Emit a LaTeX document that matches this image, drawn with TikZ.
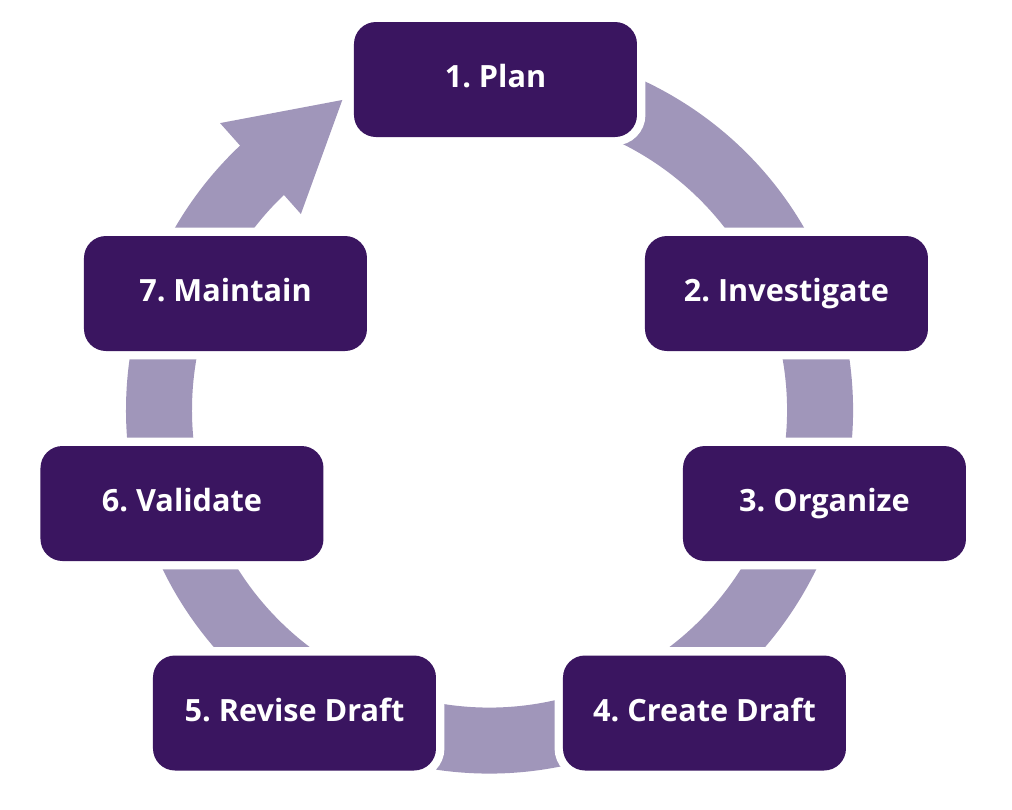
\documentclass[tikz,border=0pt]{standalone}
\usepackage{fontspec}
\setmainfont{Open Sans}
\frenchspacing
\definecolor{plum}{RGB}{58,21,96}
\definecolor{lilac}{RGB}{160,150,186}

\begin{document}
\begin{tikzpicture}[
  font=\bfseries\fontsize{21.8pt}{26pt}\selectfont,
  stage/.style={rectangle,rounded corners=0.55cm,fill=plum,text=white,
    minimum width=7.075cm,minimum height=2.875cm,inner sep=0pt,
    text height=0.6cm,text depth=0.2cm,
    preaction={draw=white,line width=0.42cm}},
  band/.style={line width=1.65cm,draw=lilac},
  arrowhd/.style={fill=lilac}
]
\fill[white] (-12.2375,-9.675) rectangle (13.0625,10.25);

% ================= ring =================
\draw[band] (105:8.2625) arc[start angle=105,end angle=-227,radius=8.2625];
\fill[arrowhd] (133.2:9.84) -- (115.4:8.58) -- (133.9:6.80) -- cycle;

% ================= stages =================
\node[stage] (plan)  at (0.15,8.2625)    {1. Plan};
\node[stage] (inv)   at (7.425,2.9125)   {2. Investigate};
\node[stage] (org)   at (8.375,-2.3375)  {3. Organize};
\node[stage] (cdraft) at (5.375,-7.575)  {4. Create Draft};
\node[stage] (rdraft) at (-4.875,-7.575) {5. Revise Draft};
\node[stage] (valid) at (-7.6875,-2.3375) {6. Validate};
\node[stage] (maint) at (-6.6,2.9125)    {7. Maintain};

\end{tikzpicture}
\end{document}
